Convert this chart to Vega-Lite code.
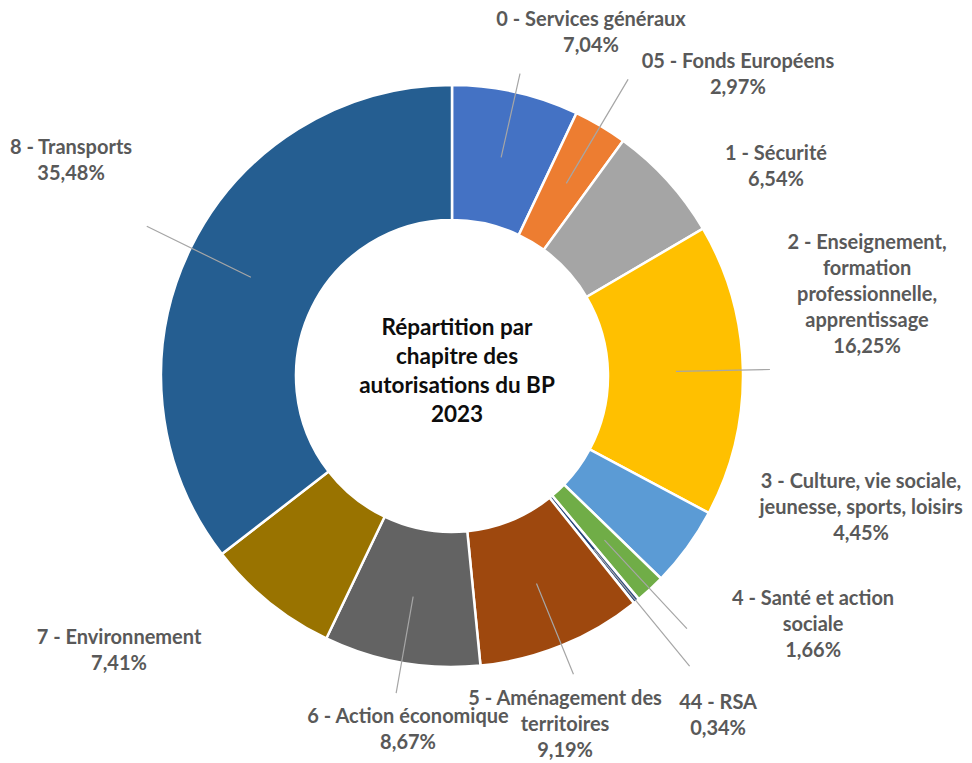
{
  "$schema": "https://vega.github.io/schema/vega-lite/v6.json",
  "width": 904,
  "height": 752,
  "autosize": {"type": "none"},
  "padding": {"left": 0, "top": 0, "right": 68, "bottom": 11},
  "background": "white",
  "config": {"view": {"stroke": null}},
  "datasets": {
    "chapitres": [
      {"rang": 1, "chapitre": "0 - Services généraux", "etiquette": "0 - Services généraux", "part": 7.04},
      {"rang": 2, "chapitre": "05 - Fonds Européens", "etiquette": "05 - Fonds Européens", "part": 2.97},
      {"rang": 3, "chapitre": "1 - Sécurité", "etiquette": "1 - Sécurité", "part": 6.54},
      {"rang": 4, "chapitre": "2 - Enseignement, formation professionnelle, apprentissage", "etiquette": "2 - Enseignement,\nformation\nprofessionnelle,\napprentissage", "part": 16.25},
      {"rang": 5, "chapitre": "3 - Culture, vie sociale, jeunesse, sports, loisirs", "etiquette": "3 - Culture, vie sociale,\njeunesse, sports, loisirs", "part": 4.45},
      {"rang": 6, "chapitre": "4 - Santé et action sociale", "etiquette": "4 - Santé et action\nsociale", "part": 1.66},
      {"rang": 7, "chapitre": "44 - RSA", "etiquette": "44 - RSA", "part": 0.34},
      {"rang": 8, "chapitre": "5 - Aménagement des territoires", "etiquette": "5 - Aménagement des\nterritoires", "part": 9.19},
      {"rang": 9, "chapitre": "6 - Action économique", "etiquette": "6 - Action économique", "part": 8.67},
      {"rang": 10, "chapitre": "7 - Environnement", "etiquette": "7 - Environnement", "part": 7.41},
      {"rang": 11, "chapitre": "8 - Transports", "etiquette": "8 - Transports", "part": 35.48}
    ],
    "titre": [
      {"texte": "Répartition par\nchapitre des\nautorisations du BP\n2023"}
    ]
  },
  "layer": [
    {
      "data": {"name": "chapitres"},
      "mark": {"type": "arc", "outerRadius": 291, "innerRadius": 156, "stroke": "white", "strokeWidth": 2.5},
      "encoding": {
        "theta": {"field": "part", "type": "quantitative", "stack": true},
        "order": {"field": "rang", "type": "quantitative"},
        "color": {
          "field": "chapitre",
          "type": "nominal",
          "legend": null,
          "scale": {
            "domain": ["0 - Services généraux", "05 - Fonds Européens", "1 - Sécurité", "2 - Enseignement, formation professionnelle, apprentissage", "3 - Culture, vie sociale, jeunesse, sports, loisirs", "4 - Santé et action sociale", "44 - RSA", "5 - Aménagement des territoires", "6 - Action économique", "7 - Environnement", "8 - Transports"],
            "range": ["#4472C4", "#ED7D31", "#A5A5A5", "#FFC000", "#5B9BD5", "#70AD47", "#264478", "#9E480E", "#636363", "#997300", "#255E91"]
          }
        }
      }
    },
    {
      "data": {"name": "chapitres"},
      "mark": {
        "type": "arc",
        "filled": false,
        "stroke": "#A6A6A6",
        "strokeWidth": 1.2,
        "padAngle": 3.14,
        "innerRadius": 224,
        "outerRadius": {"expr": "[310, 345, 224, 318, 224, 345, 375, 322, 322, 224, 340][datum.rang - 1]"}
      },
      "encoding": {
        "theta": {"field": "part", "type": "quantitative", "stack": true},
        "order": {"field": "rang", "type": "quantitative"}
      }
    },
    {
      "data": {"name": "chapitres"},
      "mark": {
        "type": "text",
        "radius": 330,
        "font": "Lato",
        "fontWeight": "bold",
        "fontSize": 20,
        "color": "#595959",
        "lineBreak": "\n",
        "lineHeight": 26,
        "align": "center",
        "baseline": "middle",
        "text": {"expr": "datum.etiquette + '\\n' + replace(format(datum.part, '.2f'), '.', ',') + '%'"},
        "dx": {"expr": "[66.6, 117.5, 79.5, 85.1, 142.4, 136.4, 57, -11.4, 13.3, -125.6, -84.7][datum.rang - 1]"},
        "dy": {"expr": "[-34.5, -30.7, 0.1, -125.8, -88.4, -18.8, 72.1, 17.4, 16, 5.8, -83.1][datum.rang - 1]"}
      },
      "encoding": {
        "theta": {"field": "part", "type": "quantitative", "stack": true},
        "order": {"field": "rang", "type": "quantitative"}
      }
    },
    {
      "data": {"name": "titre"},
      "mark": {
        "type": "text",
        "font": "Lato",
        "fontWeight": "bold",
        "fontSize": 22.5,
        "color": "#0D0D0D",
        "lineBreak": "\n",
        "lineHeight": 29,
        "align": "center",
        "baseline": "middle",
        "dx": 5,
        "dy": -48
      },
      "encoding": {
        "text": {"field": "texte", "type": "nominal"}
      }
    }
  ]
}
